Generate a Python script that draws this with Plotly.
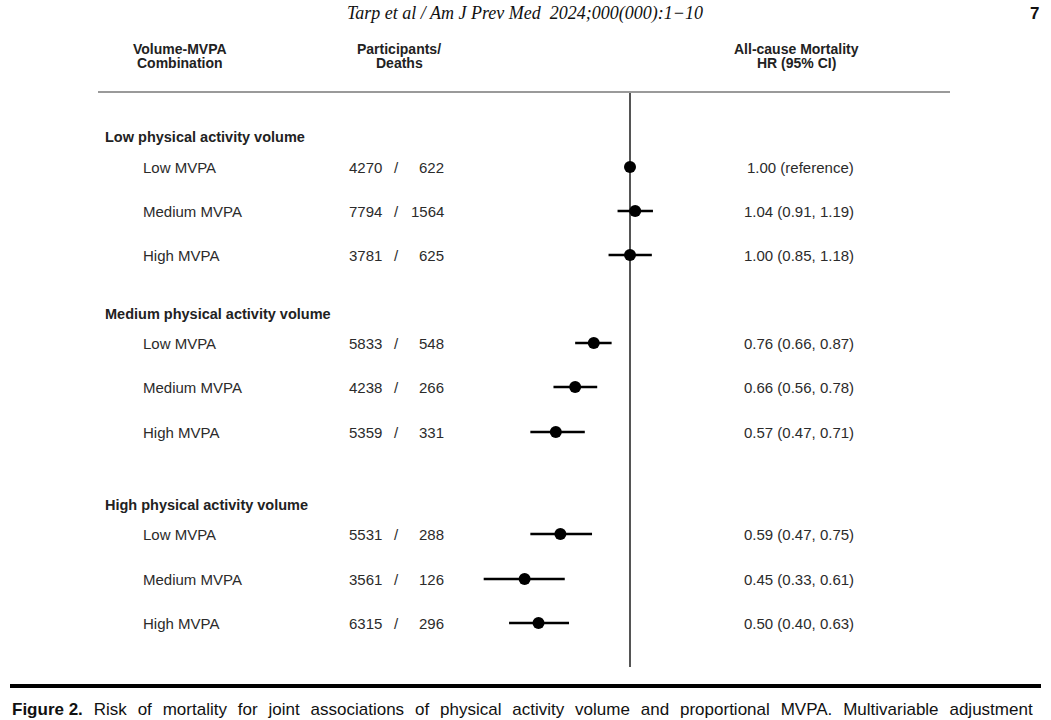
import plotly.graph_objects as go

# ---------------- data ----------------
groups = ["Low physical activity volume",
          "Medium physical activity volume",
          "High physical activity volume"]
mvpa_labels = ["Low MVPA", "Medium MVPA", "High MVPA",
               "Low MVPA", "Medium MVPA", "High MVPA",
               "Low MVPA", "Medium MVPA", "High MVPA"]
participants = [4270, 7794, 3781, 5833, 4238, 5359, 5531, 3561, 6315]
deaths = [622, 1564, 625, 548, 266, 331, 288, 126, 296]
hr = [1.00, 1.04, 1.00, 0.76, 0.66, 0.57, 0.59, 0.45, 0.50]
ci_low = [1.00, 0.91, 0.85, 0.66, 0.56, 0.47, 0.47, 0.33, 0.40]
ci_high = [1.00, 1.19, 1.18, 0.87, 0.78, 0.71, 0.75, 0.61, 0.63]
hr_text = ["1.00 (reference)", "1.04 (0.91, 1.19)", "1.00 (0.85, 1.18)",
           "0.76 (0.66, 0.87)", "0.66 (0.56, 0.78)", "0.57 (0.47, 0.71)",
           "0.59 (0.47, 0.75)", "0.45 (0.33, 0.61)", "0.50 (0.40, 0.63)"]
caption_words = ["Risk", "of", "mortality", "for", "joint", "associations", "of",
                 "physical", "activity", "volume", "and", "proportional",
                 "MVPA.", "Multivariable", "adjustment"]

# ---------------- layout constants (pixels) ----------------
W, H = 1051, 720
ROW_Y = [167, 211, 255, 343, 387, 432, 534, 579, 623]
GROUP_Y = [137, 314, 505]
X_REF_PX = 630                   # pixel of HR = 1
PX_PER_DECADE = 303.9            # log scale
SANS = "Liberation Sans, Arial, sans-serif"
TXT = "#2b2b2b"


def px(x):
    return x / W


fig = go.Figure()

fig.add_trace(go.Scatter(
    x=hr, y=ROW_Y, mode="markers",
    marker=dict(size=12, color="black", symbol="circle"),
    error_x=dict(type="data", symmetric=False,
                 array=[h - m for h, m in zip(ci_high, hr)],
                 arrayminus=[m - l for m, l in zip(hr, ci_low)],
                 width=0, thickness=2.6, color="black"),
    showlegend=False, hoverinfo="skip"))

ann = []


def add(text, x, y, size=15, anchor="left", bold=False, family=SANS,
        color=TXT, italic=False):
    t = f"<b>{text}</b>" if bold else text
    if italic:
        t = f"<i>{t}</i>"
    ann.append(dict(text=t, x=px(x), y=y, xref="paper", yref="y",
                    xanchor=anchor, yanchor="middle", showarrow=False,
                    font=dict(size=size, family=family, color=color)))


# page header
add("Tarp et al / Am J Prev Med  2024;000(000):1\u221210", 525, 13, size=18,
    anchor="center", family="Liberation Serif, Times New Roman, serif",
    color="#111", italic=True)
add("7", 1041, 13, size=17, anchor="right", bold=True, color="#111")

# column headers
for (l1, l2), cx in zip([("Volume-MVPA", "Combination"),
                         ("Participants/", "Deaths"),
                         ("All-cause Mortality", "HR (95% CI)")],
                        [180, 399, 796]):
    add(l1, cx, 49, size=14, anchor="center", bold=True, color="#222")
    add(l2, cx, 63, size=14, anchor="center", bold=True, color="#222")

# group headers
for g, gy in zip(groups, GROUP_Y):
    add(g, 103, gy, size=14.5, bold=True, color="#222")

# rows
for i, y in enumerate(ROW_Y):
    add(mvpa_labels[i], 141, y)
    add(str(participants[i]), 384, y, anchor="right")
    add("/", 396, y, anchor="center")
    add(str(deaths[i]), 446, y, anchor="right")
    add(hr_text[i], 856, y, anchor="right")

# caption (justified look via wider word gaps)
gap = " \u00a0\u200a"
caption = "<b>Figure 2.</b>" + gap + gap.join(caption_words)
ann.append(dict(
    text=caption, x=px(10), y=709, xref="paper", yref="y",
    xanchor="left", yanchor="middle", showarrow=False,
    font=dict(size=17, family=SANS, color="#111")))

shapes = [
    # header rule
    dict(type="line", xref="paper", yref="y", x0=px(98), x1=px(950),
         y0=92, y1=92, line=dict(color="#9a9a9a", width=2), layer="below"),
    # reference line at HR = 1
    dict(type="line", xref="x", yref="y", x0=1, x1=1, y0=93, y1=667,
         line=dict(color="#555555", width=2), layer="below"),
    # bottom thick rule
    dict(type="line", xref="paper", yref="y", x0=px(10), x1=px(1041),
         y0=686, y1=686, line=dict(color="black", width=4)),
]

lo_log = -X_REF_PX / PX_PER_DECADE
hi_log = (W - X_REF_PX) / PX_PER_DECADE

fig.update_layout(
    width=W, height=H, margin=dict(l=0, r=0, t=0, b=0),
    paper_bgcolor="white", plot_bgcolor="white",
    xaxis=dict(type="log", range=[lo_log, hi_log], visible=False,
               showgrid=False, zeroline=False),
    yaxis=dict(range=[H, 0], visible=False, showgrid=False, zeroline=False),
    annotations=ann, shapes=shapes,
)

fig.write_html(
    "out.html",
    config={"displayModeBar": False},
    post_script="document.body.style.margin='0';"
                "document.body.style.overflow='hidden';",
)
